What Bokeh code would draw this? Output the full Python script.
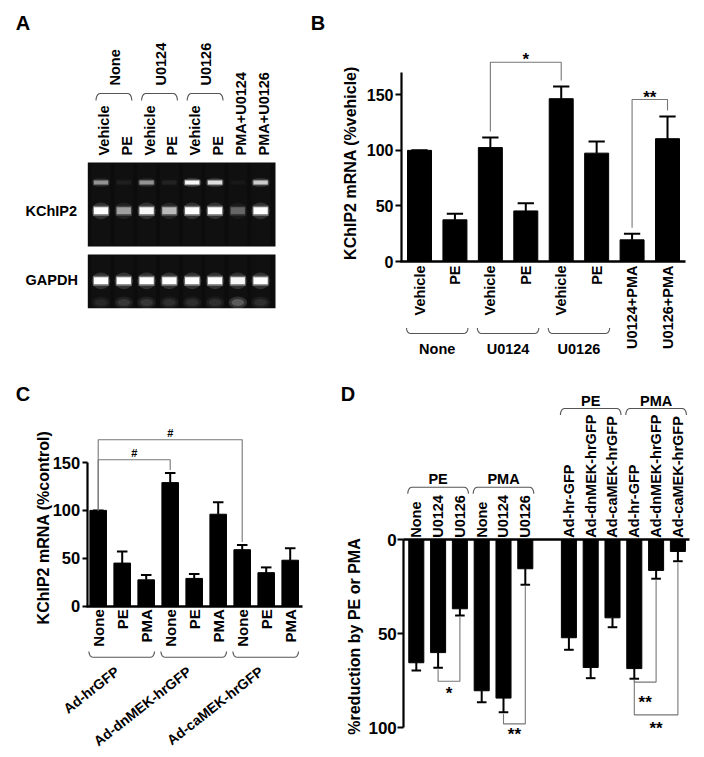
import math
from bokeh.plotting import figure
from bokeh.models import Range1d, LinearAxis, FixedTicker
from bokeh.layouts import row, column
from bokeh.embed import file_html
from bokeh.resources import INLINE
from bokeh.core.properties import value

FONT = "Liberation Sans"

# ---------------- data ----------------
# Panel A: RT-PCR gel (relative band brightness, 0-1)
lanes_A = ["Vehicle", "PE", "Vehicle", "PE", "Vehicle", "PE", "PMA+U0124", "PMA+U0126"]
groups_A = ["None", "U0124", "U0126"]
group_lanes_A = [(0, 1), (2, 3), (4, 5)]
rows_A = ["KChIP2", "GAPDH"]
kchip2_A = [1.0, 0.5, 0.95, 0.62, 1.0, 1.0, 0.28, 1.0]
kchip2_upper_A = [0.45, 0.05, 0.45, 0.06, 0.95, 0.8, 0.03, 0.7]
gapdh_A = [1.0, 1.0, 1.0, 1.0, 1.0, 1.0, 0.95, 1.0]
gapdh_smear_A = [0.12, 0.2, 0.2, 0.16, 0.16, 0.16, 0.4, 0.16]

# Panel B
cats_B = ["Vehicle", "PE", "Vehicle", "PE", "Vehicle", "PE", "U0124+PMA", "U0126+PMA"]
mean_B = [100, 37.5, 102.5, 45.5, 146.5, 97.5, 19.5, 110.5]
sem_B = [0, 5.5, 9, 7, 11, 10.5, 5.5, 20]
groups_B = ["None", "U0124", "U0126"]
group_bars_B = [(0, 1), (2, 3), (4, 5)]
sig_pairs_B = [(2, 4), (6, 7)]
sig_text_B = ["*", "**"]
sig_level_B = [179.3, 145.8]
ticks_B = [0, 50, 100, 150]

# Panel C
cats_C = ["None", "PE", "PMA", "None", "PE", "PMA", "None", "PE", "PMA"]
mean_C = [100, 45, 27.5, 129, 29, 96, 59, 35, 48]
sem_C = [0, 12, 5, 10, 4.5, 12.5, 5, 5.5, 12.5]
groups_C = ["Ad-hrGFP", "Ad-dnMEK-hrGFP", "Ad-caMEK-hrGFP"]
group_bars_C = [(0, 2), (3, 5), (6, 8)]
sig_pairs_C = [(0, 3), (0, 6)]
sig_text_C = ["#", "#"]
sig_level_C = [152.8, 173.7]
ticks_C = [0, 50, 100, 150]

# Panel D
cats_D = ["None", "U0124", "U0126", "None", "U0124", "U0126",
          "Ad-hr-GFP", "Ad-dnMEK-hrGFP", "Ad-caMEK-hrGFP",
          "Ad-hr-GFP", "Ad-dnMEK-hrGFP", "Ad-caMEK-hrGFP"]
pos_D = [0, 1, 2, 3, 4, 5, 7, 8, 9, 10, 11, 12]
mean_D = [65.4, 60, 36.7, 80.3, 84.2, 15.4, 52.1, 67.9, 41.5, 68.5, 16.3, 6.2]
sem_D = [4.1, 8.1, 3.6, 6.1, 7.5, 8.5, 6.4, 5.7, 5.0, 5.4, 4.4, 5.2]
groups_D = ["PE", "PMA", "PE", "PMA"]
group_bars_D = [(0, 2), (3, 5), (6, 8), (9, 11)]
sig_pairs_D = [(1, 2), (4, 5), (9, 10), (9, 11)]
sig_text_D = ["*", "**", "**", "**"]
sig_level_D = [75.2, 97.9, 75.7, 93.1]
sig_label_D = [79.8, 101.8, 84.6, 98.2]
ticks_D = [0, 50, 100]

# ---------------- helpers ----------------
def make_fig(X0, Y0, W, H, px0, sx, py0, sy):
    fx = lambda px: (px - px0) / sx
    fy = lambda py: (py0 - py) / sy
    gx = lambda x: px0 + sx * x
    gy = lambda y: py0 - sy * y
    p = figure(width=W, height=H,
               x_range=Range1d(fx(X0), fx(X0 + W)),
               y_range=Range1d(fy(Y0 + H), fy(Y0)),
               x_axis_type=None, y_axis_type=None,
               toolbar_location=None, output_backend="svg",
               outline_line_color=None,
               background_fill_color="white", border_fill_color="white")
    p.min_border_left = 0
    p.min_border_right = 0
    p.min_border_top = 0
    p.min_border_bottom = 0
    return p, fx, fy, gx, gy


def txt(p, x, y, s, size, angle=0.0, align="center", baseline="middle",
        style="bold", color="black"):
    p.text(x=[x], y=[y], text=[s], angle=angle, angle_units="deg",
           text_font=value(FONT), text_font_size=value(f"{size}px"),
           text_font_style=style, text_align=align, text_baseline=baseline,
           text_color=color)


def style_axis(ax, size, lw=2.2):
    ax.axis_line_width = lw
    ax.axis_line_color = "black"
    ax.major_tick_line_width = lw
    ax.major_tick_line_color = "black"
    ax.major_tick_in = 0
    ax.minor_tick_in = 0
    ax.minor_tick_out = 0
    ax.major_label_text_font = FONT
    ax.major_label_text_font_size = f"{size}px"
    ax.major_label_text_font_style = "bold"
    ax.major_label_text_color = "black"


def brace(p, fx, fy, x0, x1, y_line, y_end, color="#555555", w=1.1, r=4.0):
    xs, ys = [], []
    n = 6
    for k in range(n + 1):
        t = k / n * math.pi / 2
        xs.append(x0 + r * (1 - math.cos(t)))
        ys.append(y_end + (y_line - y_end) * math.sin(t))
    for k in range(n + 1):
        t = k / n * math.pi / 2
        xs.append(x1 - r + r * math.sin(t))
        ys.append(y_line + (y_end - y_line) * (1 - math.cos(t)))
    p.line([fx(v) for v in xs], [fy(v) for v in ys], line_color=color, line_width=w)


def bars(p, xs, means, sems, width, cap):
    tops = [m + s for m, s in zip(means, sems)]
    p.vbar(x=xs, top=means, bottom=0, width=width, fill_color="black", line_color="black")
    p.segment(x0=xs, y0=means, x1=xs, y1=tops, line_color="black", line_width=2)
    p.segment(x0=[x - cap for x in xs], y0=tops, x1=[x + cap for x in xs], y1=tops,
              line_color="black", line_width=2)


# ---------------- layout constants (page pixels) ----------------
XL, XR, XE = 0, 305, 704
YT, YB, YE = 0, 370, 757
WL, WR = XR - XL, XE - XR
HT, HB = YB - YT, YE - YB

# ================= Panel A =================
pA, fxA, fyA, gxA, gyA = make_fig(XL, YT, WL, HT, 100.5, 22.8, 0, 1)
txt(pA, fxA(22.5), fyA(22), "A", 20)
lane_x = list(range(len(lanes_A)))
for (t, b) in [(162, 246), (254, 308)]:
    pA.quad(left=fxA(87.3), right=fxA(275), top=fyA(t), bottom=fyA(b),
            fill_color="#0c0c0c", line_color=None)
    pA.quad(left=[x - 0.42 for x in lane_x], right=[x + 0.42 for x in lane_x],
            top=fyA(t + 1), bottom=fyA(b - 1), fill_color="#1a1a1a", fill_alpha=0.35,
            line_color=None)


def gel_band(ys_py, inten, h, w=0.68):
    yv = fyA(ys_py)
    pA.ellipse(x=lane_x, y=yv, width=w * 1.2, height=h * 2.4, fill_color="white",
               fill_alpha=[0.14 * i for i in inten], line_color=None)
    pA.rect(x=lane_x, y=yv, width=w * 1.04, height=h * 1.45, fill_color="white",
            fill_alpha=[0.3 * i for i in inten], line_color=None)
    pA.rect(x=lane_x, y=yv, width=w * 0.92, height=h, fill_color="white",
            fill_alpha=inten, line_color=None)


gel_band(182, kchip2_upper_A, 4.0)
gel_band(210.3, kchip2_A, 7.0)
gel_band(280.3, gapdh_A, 7.0)
pA.ellipse(x=lane_x, y=fyA(302), width=0.8, height=12, fill_color="white",
           fill_alpha=[0.35 * s for s in gapdh_smear_A], line_color=None)
pA.ellipse(x=lane_x, y=fyA(302), width=0.55, height=7, fill_color="white",
           fill_alpha=[0.5 * s for s in gapdh_smear_A], line_color=None)
pA.quad(left=fxA(85), right=fxA(277), top=fyA(308), bottom=fyA(330),
        fill_color="white", line_color=None)

for i, lab in enumerate(lanes_A):
    txt(pA, i + 3.0 / 22.8, fyA(155), lab, 14.5, angle=90, align="left")
for (a, b), lab in zip(group_lanes_A, groups_A):
    x0 = gxA(a) - 5
    x1 = gxA(b) + 8
    brace(pA, fxA, fyA, x0, x1, 93, 100)
    txt(pA, fxA((x0 + x1) / 2 + 1), fyA(85), lab, 14.5, angle=90, align="left")
txt(pA, fxA(25), fyA(210.5), rows_A[0], 14.5, align="left")
txt(pA, fxA(25), fyA(279.5), rows_A[1], 14.5, align="left")

# ================= Panel B =================
pB, fxB, fyB, gxB, gyB = make_fig(XR, YT, WR, HT, 419, 35.43, 261, 1.1113)
pos_B = list(range(len(cats_B)))
bars(pB, pos_B, mean_B, sem_B, 0.677, 0.23)

yaxB = LinearAxis(fixed_location=fxB(401), bounds=(0, 170), ticker=FixedTicker(ticks=ticks_B))
style_axis(yaxB, 16)
yaxB.major_tick_out = 6
yaxB.major_label_standoff = 2
pB.add_layout(yaxB, "left")

xaxB = LinearAxis(fixed_location=0, bounds=(fxB(400), fxB(685)), ticker=FixedTicker(ticks=pos_B))
style_axis(xaxB, 14.5, lw=2.5)
xaxB.major_tick_out = 0
xaxB.major_label_standoff = 4
xaxB.major_label_orientation = math.pi / 2
xaxB.major_label_overrides = {i: c for i, c in zip(pos_B, cats_B)}
pB.add_layout(xaxB, "below")

for (a, b), lab in zip(group_bars_B, groups_B):
    x0 = gxB(pos_B[a] - 0.677 / 2) - 1
    x1 = gxB(pos_B[b] + 0.677 / 2) + 1
    brace(pB, fxB, fyB, x0, x1, 333, 327.5)
    txt(pB, fxB((x0 + x1) / 2), fyB(348), lab, 14.5)

gap_B = 6 / 1.1113
for (a, b), s, lev in zip(sig_pairs_B, sig_text_B, sig_level_B):
    ya = mean_B[a] + sem_B[a] + gap_B
    yb = mean_B[b] + sem_B[b] + gap_B
    pB.line([pos_B[a], pos_B[a], pos_B[b], pos_B[b]], [ya, lev, lev, yb],
            line_color="#777777", line_width=1.1)
    star_py = gyB(lev) - 6
    txt(pB, (pos_B[a] + pos_B[b]) / 2, fyB(star_py + 0.215 * 17), s, 17)

txt(pB, fxB(317.5), fyB(22), "B", 20)
txt(pB, fxB(350), fyB(162.5), "KChIP2 mRNA (%vehicle)", 16, angle=90)

# ================= Panel C =================
pC, fxC, fyC, gxC, gyC = make_fig(XL, YB, WL, HB, 97.7, 24.0, 605.7, 0.958)
pos_C = list(range(len(cats_C)))
bars(pC, pos_C, mean_C, sem_C, 0.69, 0.22)

yaxC = LinearAxis(fixed_location=fxC(86.7), bounds=(0, 150), ticker=FixedTicker(ticks=ticks_C))
style_axis(yaxC, 16.5)
yaxC.major_tick_out = 5
yaxC.major_label_standoff = 2
pC.add_layout(yaxC, "left")

xaxC = LinearAxis(fixed_location=0, bounds=(fxC(85.5), fxC(302)), ticker=FixedTicker(ticks=pos_C))
style_axis(xaxC, 15, lw=2.5)
xaxC.major_tick_out = 0
xaxC.major_label_standoff = 3
xaxC.major_label_orientation = math.pi / 2
xaxC.major_label_overrides = {i: c for i, c in zip(pos_C, cats_C)}
pC.add_layout(xaxC, "below")

for (a, b), lab in zip(group_bars_C, groups_C):
    x0 = gxC(pos_C[a] - 0.345) - 1
    x1 = gxC(pos_C[b] + 0.345)
    brace(pC, fxC, fyC, x0, x1, 656.7, 651.0)
    cx = (gxC(pos_C[a]) + gxC(pos_C[b])) / 2
    txt(pC, fxC(cx - 5), fyC(669), lab, 14, angle=38, align="right")

gap_C = 3 / 0.958
for (a, b), s, lev in zip(sig_pairs_C, sig_text_C, sig_level_C):
    ya = mean_C[a] + sem_C[a]
    yb = mean_C[b] + sem_C[b] + gap_C
    pC.line([pos_C[a], pos_C[a], pos_C[b], pos_C[b]], [ya, lev, lev, yb],
            line_color="#777777", line_width=1.1)
    txt(pC, (pos_C[a] + pos_C[b]) / 2, fyC(gyC(lev) - 7), s, 11)

txt(pC, fxC(22.5), fyC(393.5), "C", 20)
txt(pC, fxC(43), fyC(527), "KChIP2 mRNA (%control)", 16, angle=90)

# ================= Panel D =================
pD, fxD, fyD, gxD, gyD = make_fig(XR, YB, WR, HB, 415.8, 21.8, 539.3, -1.88)
bars(pD, pos_D, mean_D, sem_D, 0.69, 0.22)

yaxD = LinearAxis(fixed_location=fxD(403.3), bounds=(0, 100), ticker=FixedTicker(ticks=ticks_D))
style_axis(yaxD, 17)
yaxD.major_tick_out = 6
yaxD.major_label_standoff = 1
pD.add_layout(yaxD, "left")

xaxD = LinearAxis(fixed_location=0, bounds=(fxD(402.5), fxD(689.3)), ticker=FixedTicker(ticks=pos_D))
style_axis(xaxD, 14.5, lw=2.5)
xaxD.major_tick_out = 0
xaxD.major_label_standoff = 2
xaxD.major_label_orientation = math.pi / 2
xaxD.major_label_overrides = {p_: c for p_, c in zip(pos_D, cats_D)}
pD.add_layout(xaxD, "above")

brace_levels_D = [(486.7, 493.3, 478), (486.7, 493.3, 478), (408, 414.5, 400), (408, 414.5, 400)]
for (a, b), lab, (yl, ye, ylab) in zip(group_bars_D, groups_D, brace_levels_D):
    x0 = gxD(pos_D[a] - 0.345) - 1
    x1 = gxD(pos_D[b] + 0.345) + 1
    brace(pD, fxD, fyD, x0, x1, yl, ye)
    txt(pD, pos_D[a + 1], fyD(ylab), lab, 14.5)

gap_D = 1.5 / 1.88
for (a, b), s, lev, lab_v in zip(sig_pairs_D, sig_text_D, sig_level_D, sig_label_D):
    ya = mean_D[a] + sem_D[a] + gap_D
    yb = mean_D[b] + sem_D[b] + gap_D
    pD.line([pos_D[a], pos_D[a], pos_D[b], pos_D[b]], [ya, lev, lev, yb],
            line_color="#777777", line_width=1.1)
    txt(pD, (pos_D[a] + pos_D[b]) / 2, fyD(gyD(lab_v) + 0.215 * 17), s, 17)

txt(pD, fxD(347.5), fyD(393.5), "D", 20)
txt(pD, fxD(354), fyD(636), "%reduction by PE or PMA", 16, angle=90)

layout = column(row(pA, pB), row(pC, pD))
open("out.html", "w").write(file_html(layout, INLINE))
